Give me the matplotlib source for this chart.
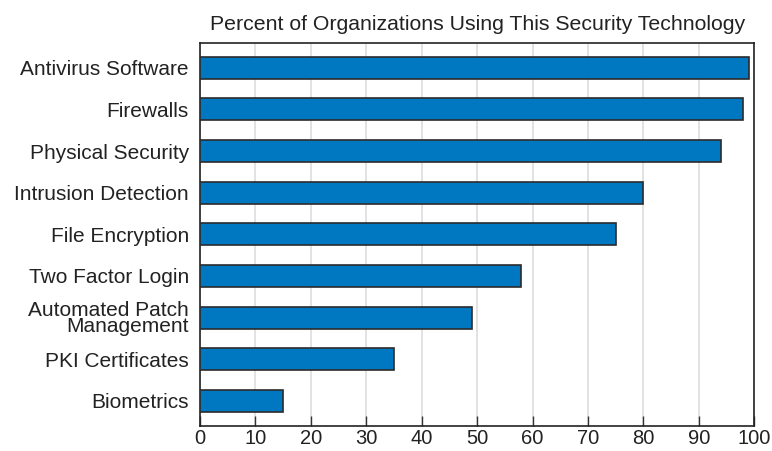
import matplotlib
matplotlib.use('Agg')
import matplotlib.pyplot as plt

plt.rcParams['font.family'] = ['Liberation Sans', 'DejaVu Sans']

categories = ['Antivirus Software', 'Firewalls', 'Physical Security',
	'Intrusion Detection', 'File Encryption', 'Two Factor Login',
	'Automated Patch\nManagement', 'PKI Certificates', 'Biometrics']
percents = [99, 98, 94, 80, 75, 58, 49, 35, 15]
x_ticks = [0, 10, 20, 30, 40, 50, 60, 70, 80, 90, 100]

fig = plt.figure(figsize=(7.72, 4.51), dpi=100)
ax = fig.add_axes([0.259, 0.056, 0.718, 0.849])

pos = list(range(len(categories)))
ax.barh(pos, percents, height=0.53, color='#0078c1', edgecolor='#2b2b2b',
	linewidth=1.2, zorder=3)

ax.set_xlim(0, 100)
ax.set_ylim(len(categories) - 0.4, -0.6)
ax.set_yticks(pos)
ax.set_yticklabels(categories, fontsize=15, color='#222222', linespacing=0.85)
ax.set_xticks(x_ticks)
ax.set_xticklabels([str(t) for t in x_ticks], fontsize=14.5, color='#222222')
ax.tick_params(axis='y', length=0, pad=8)
ax.tick_params(axis='x', direction='in', length=7, width=1, color='#333333', pad=2.5)
ax.xaxis.grid(True, color='#dddddd', linewidth=1.2, zorder=0)
ax.set_axisbelow(True)
for s in ax.spines.values():
	s.set_color('#222222')
	s.set_linewidth(1.2)

ax.set_title('Percent of Organizations Using This Security Technology',
	fontsize=15.3, color='#222222', pad=9)

fig.savefig('out.png', dpi=100)
